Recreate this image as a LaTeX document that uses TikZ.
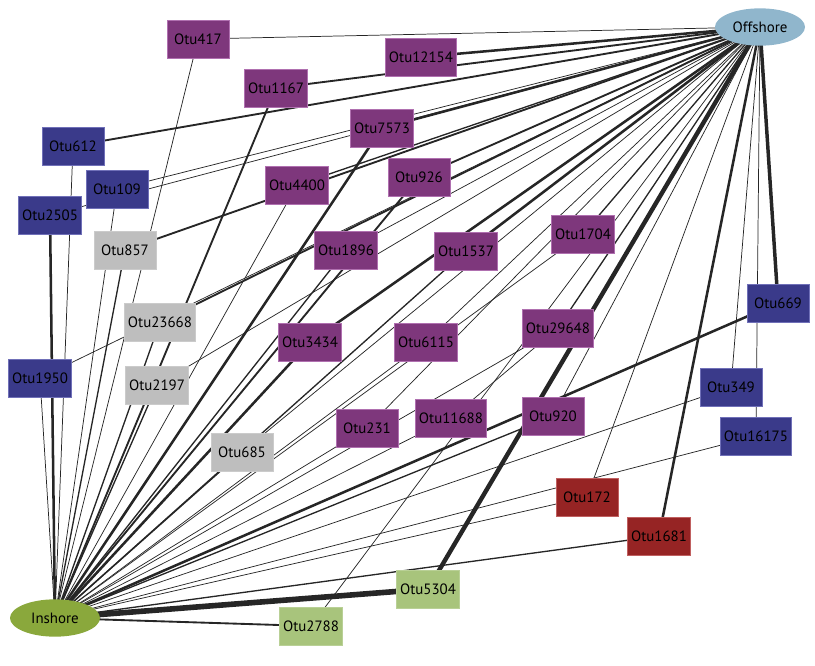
\documentclass[tikz,border=0pt]{standalone}
\usepackage{fontspec}
\setmainfont{PT Sans}
\usetikzlibrary{shapes.geometric,backgrounds}
\definecolor{cpur}{HTML}{7E377C}
\definecolor{cpurl}{HTML}{B070B0}
\definecolor{cblu}{HTML}{3A3A8A}
\definecolor{cblul}{HTML}{7070B8}
\definecolor{cgry}{HTML}{BEBEBE}
\definecolor{cred}{HTML}{962424}
\definecolor{credl}{HTML}{C06060}
\definecolor{cgrn}{HTML}{A8C47C}
\definecolor{cins}{HTML}{8AA83C}
\definecolor{coff}{HTML}{90B6CC}
\definecolor{cedge}{HTML}{262626}
\begin{document}
\begin{tikzpicture}[x=0.75pt,y=-0.75pt,
  otu/.style={rectangle, minimum width=46.5pt, minimum height=28.5pt, inner xsep=2.5pt,
    font=\fontsize{11.2}{12}\selectfont, text=black, line width=0.5pt},
  pur/.style={otu, fill=cpur, draw=cpurl},
  blu/.style={otu, fill=cblu, draw=cblul},
  gry/.style={otu, fill=cgry, draw=cgry!80!white},
  red/.style={otu, fill=cred, draw=credl},
  grn/.style={otu, fill=cgrn, draw=cgrn!80!white},
  hub/.style={ellipse, minimum width=67.5pt, minimum height=28pt, inner sep=0pt,
    font=\fontsize{11.2}{12}\selectfont, text=black},
  ea/.style={draw=cedge, line width=0.55pt},
  eb/.style={draw=cedge, line width=1.0pt},
  ec/.style={draw=cedge, line width=1.4pt},
  ed/.style={draw=cedge, line width=1.9pt},
  ee/.style={draw=cedge, line width=2.6pt},
  ef/.style={draw=cedge, line width=3.3pt},
  eg/.style={draw=cedge, line width=4.2pt}]
\useasboundingbox (0,0) rectangle (815,665);

\node[hub, fill=coff] (off) at (760,27) {Offshore};
\node[hub, fill=cins] (ins) at (55,618) {Inshore};

\node[pur] (o417) at (198,39) {Otu417};
\node[pur] (o12154) at (421,57) {Otu12154};
\node[pur] (o1167) at (276,88) {Otu1167};
\node[pur] (o7573) at (382,128) {Otu7573};
\node[blu] (o612) at (73,146) {Otu612};
\node[blu] (o109) at (117,189) {Otu109};
\node[pur] (o4400) at (297,185) {Otu4400};
\node[pur] (o926) at (419,177) {Otu926};
\node[blu] (o2505) at (50,215) {Otu2505};
\node[gry] (o857) at (125,250) {Otu857};
\node[pur] (o1896) at (346,250) {Otu1896};
\node[pur] (o1537) at (466,251) {Otu1537};
\node[pur] (o1704) at (583,234) {Otu1704};
\node[gry] (o23668) at (160,322) {Otu23668};
\node[pur] (o3434) at (310,342) {Otu3434};
\node[pur] (o6115) at (426,342) {Otu6115};
\node[pur] (o29648) at (558,328) {Otu29648};
\node[blu] (o669) at (778,303) {Otu669};
\node[blu] (o1950) at (40,378) {Otu1950};
\node[gry] (o2197) at (157,385) {Otu2197};
\node[blu] (o349) at (731,387) {Otu349};
\node[pur] (o231) at (367,428) {Otu231};
\node[pur] (o11688) at (451,418) {Otu11688};
\node[pur] (o920) at (553,416) {Otu920};
\node[blu] (o16175) at (756,436) {Otu16175};
\node[gry] (o685) at (242,452) {Otu685};
\node[red] (o172) at (587,497) {Otu172};
\node[red] (o1681) at (659,536) {Otu1681};
\node[grn] (o5304) at (428,589) {Otu5304};
\node[grn] (o2788) at (311,626) {Otu2788};

\begin{scope}[on background layer]
% Offshore edges
\draw[ea] (off.center) -- (o417.center);
\draw[ed] (off.center) -- (o12154.center);
\draw[ec] (off.center) -- (o1167.center);
\draw[ec] (off.center) -- (o612.center);
\draw[ea] (off.center) -- (o109.center);
\draw[ea] (off.center) -- (o2505.center);
\draw[ed] (off.center) -- (o7573.center);
\draw[eb] (off.center) -- (o4400.center);
\draw[ec] (off.center) -- (o926.center);
\draw[ec] (off.center) -- (o857.center);
\draw[ea] (off.center) -- (o1896.center);
\draw[ed] (off.center) -- (o1537.center);
\draw[eb] (off.center) -- (o1704.center);
\draw[ec] (off.center) -- (o23668.center);
\draw[ea] (off.center) -- (o1950.center);
\draw[ea] (off.center) -- (o2197.center);
\draw[ed] (off.center) -- (o3434.center);
\draw[ea] (off.center) -- (o6115.center);
\draw[ea] (off.center) -- (o231.center);
\draw[eb] (off.center) -- (o29648.center);
\draw[ea] (off.center) -- (o920.center);
\draw[ea] (off.center) -- (o685.center);
\draw[ee] (off.center) -- (o669.center);
\draw[ea] (off.center) -- (o349.center);
\draw[ea] (off.center) -- (o16175.center);
\draw[ea] (off.center) -- (o172.center);
\draw[ed] (off.center) -- (o1681.center);
\draw[ef] (off.center) -- (o5304.center);
\draw[ea] (off.center) -- (o2788.center);
% Inshore edges
\draw[ea] (ins.center) -- (o417.center);
\draw[ec] (ins.center) -- (o1167.center);
\draw[ea] (ins.center) -- (o612.center);
\draw[ea] (ins.center) -- (o109.center);
\draw[ed] (ins.center) -- (o2505.center);
\draw[ed] (ins.center) -- (o7573.center);
\draw[ea] (ins.center) -- (o4400.center);
\draw[ec] (ins.center) -- (o926.center);
\draw[eb] (ins.center) -- (o857.center);
\draw[eb] (ins.center) -- (o1896.center);
\draw[eb] (ins.center) -- (o1537.center);
\draw[ea] (ins.center) -- (o1704.center);
\draw[eb] (ins.center) -- (o23668.center);
\draw[ea] (ins.center) -- (o1950.center);
\draw[eb] (ins.center) -- (o2197.center);
\draw[ed] (ins.center) -- (o3434.center);
\draw[ea] (ins.center) -- (o6115.center);
\draw[ea] (ins.center) -- (o231.center);
\draw[ea] (ins.center) -- (o11688.center);
\draw[ea] (ins.center) -- (o29648.center);
\draw[eb] (ins.center) -- (o920.center);
\draw[eb] (ins.center) -- (o685.center);
\draw[ed] (ins.center) -- (o669.center);
\draw[ea] (ins.center) -- (o349.center);
\draw[ea] (ins.center) -- (o16175.center);
\draw[ea] (ins.center) -- (o172.center);
\draw[eb] (ins.center) -- (o1681.center);
\draw[eg] (ins.center) -- (o5304.center);
\draw[ec] (ins.center) -- (o2788.center);
% cross edge
\draw[ea] (o11688.center) -- (o29648.center);
\end{scope}
\end{tikzpicture}
\end{document}
